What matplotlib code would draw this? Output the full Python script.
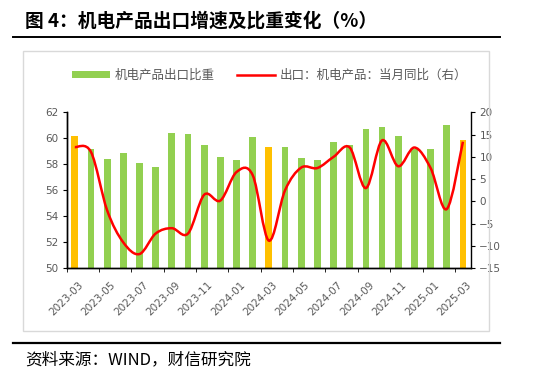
import numpy as np
import matplotlib
matplotlib.use("Agg")
from matplotlib import pyplot as plt
from matplotlib.path import Path
from matplotlib.patches import PathPatch, Patch, Rectangle
from matplotlib.lines import Line2D

plt.rcParams['font.family'] = ['Noto Sans CJK SC', 'DejaVu Sans']

months = ['2023-03', '2023-04', '2023-05', '2023-06', '2023-07', '2023-08', '2023-09',
          '2023-10', '2023-11', '2023-12', '2024-01', '2024-02', '2024-03', '2024-04',
          '2024-05', '2024-06', '2024-07', '2024-08', '2024-09', '2024-10', '2024-11',
          '2024-12', '2025-01', '2025-02', '2025-03']
share = [60.2, 59.2, 58.4, 58.85, 58.1, 57.8, 60.4, 60.3, 59.45, 58.55, 58.3, 60.1, 59.35,
         59.3, 58.45, 58.3, 59.7, 59.5, 60.75, 60.85, 60.2, 59.2, 59.2, 61.05, 59.9]
yoy = [12.2, 11.1, -2.0, -9.2, -11.8, -7.2, -6.0, -7.2, 1.5, 0.2, 6.6, 5.9, -8.8,
       2.5, 7.6, 7.5, 10.0, 12.1, 3.0, 13.7, 7.9, 12.1, 7.5, -1.7, 13.4]
march = ['2023-03', '2024-03', '2025-03']

green = '#92D050'
orange = '#FFC000'
red = '#FF0000'
gray = '#595959'

fig = plt.figure(figsize=(5.5, 3.78), dpi=100)

# outer frame + rules
fig.patches.append(Rectangle((0.0413, 0.1251), 0.8477, 0.7408, transform=fig.transFigure,
                             fill=False, edgecolor='#D9D9D9', linewidth=1.0))
fig.add_artist(Line2D([0.0236, 0.909], [0.903, 0.903], color='black', lw=1.4))
fig.add_artist(Line2D([0.0236, 0.909], [0.0918, 0.0918], color='black', lw=1.6))
fig.text(0.045, 0.945, '图 4：机电产品出口增速及比重变化（%）', fontsize=13.5,
         fontweight='bold', ha='left', va='center')
fig.text(0.045, 0.047, '资料来源：WIND，财信研究院', fontsize=12, style='italic',
         ha='left', va='center')

ax = fig.add_axes([0.1213, 0.2902, 0.7351, 0.4127])
ax2 = ax.twinx()

x = np.arange(len(months))
colors = [orange if m in march else green for m in months]
ax.bar(x, [v - 50 for v in share], bottom=50, width=0.42, color=colors, zorder=2)
ax.set_ylim(50, 62)
ax.set_yticks(range(50, 63, 2))
ax.set_xlim(-0.5, len(months) - 0.5)

# smoothed line (Excel style bezier through the points)
ys = np.array(yoy)
verts = [(x[0], ys[0])]
codes = [Path.MOVETO]
n = len(ys)
for i in range(n - 1):
    p0 = np.array([x[max(i - 1, 0)], ys[max(i - 1, 0)]])
    p1 = np.array([x[i], ys[i]])
    p2 = np.array([x[i + 1], ys[i + 1]])
    p3 = np.array([x[min(i + 2, n - 1)], ys[min(i + 2, n - 1)]])
    c1 = p1 + (p2 - p0) / 6
    c2 = p2 - (p3 - p1) / 6
    verts += [tuple(c1), tuple(c2), tuple(p2)]
    codes += [Path.CURVE4] * 3
ax2.add_patch(PathPatch(Path(verts, codes), facecolor='none', edgecolor=red, lw=1.8, zorder=3))
ax2.set_ylim(-15, 20)
ax2.set_yticks(range(-15, 21, 5))

# ticks between categories, labels every second month
ax.set_xticks(x[::2] + 0.2)
ax.set_xticklabels(months[::2], rotation=45, ha='right', va='top', rotation_mode='anchor')
ax.set_xticks(np.arange(-0.5, len(months), 2), minor=True)
ax.tick_params(axis='x', which='major', length=0, pad=8, labelsize=7.5, labelcolor=gray)
ax.tick_params(axis='x', which='minor', length=3, direction='out', color='black')
ax.tick_params(axis='y', length=3, direction='out', labelsize=7.5, labelcolor=gray, pad=3)
ax2.tick_params(axis='y', length=3, direction='out', labelsize=7.5, labelcolor=gray, pad=3)
for lab in ax.get_xticklabels() + ax.get_yticklabels() + ax2.get_yticklabels():
    lab.set_family('DejaVu Sans')

for a in (ax, ax2):
    a.spines['top'].set_visible(False)
    for s in ('left', 'right', 'bottom'):
        a.spines[s].set_color('black')
        a.spines[s].set_linewidth(1.0)
ax.spines['right'].set_visible(False)

handles = [Patch(facecolor=green, edgecolor='none'),
           Line2D([], [], color=red, lw=1.8)]
fig.legend(handles, ['机电产品出口比重', '出口：机电产品：当月同比（右）'],
           loc='center', bbox_to_anchor=(0.49, 0.80), ncol=2, frameon=False,
           fontsize=9, handlelength=3.0, handleheight=0.55, handletextpad=0.4,
           columnspacing=1.8, labelcolor=gray)

fig.savefig('out.png', dpi=100)
